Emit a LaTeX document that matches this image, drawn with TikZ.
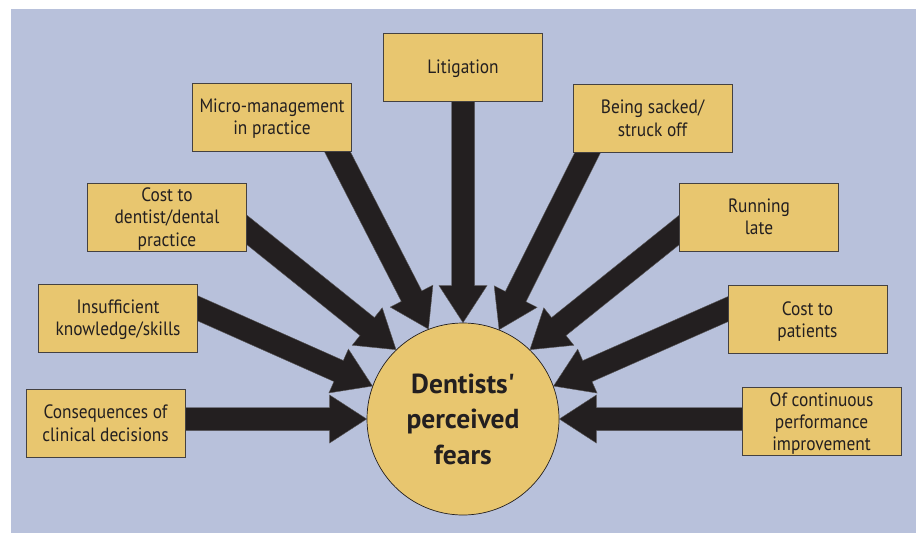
\documentclass[tikz,border=0pt]{standalone}
\usepackage{fontspec}
\setmainfont{PT Sans}[FakeStretch=0.9]
\newfontfamily\centrefont{PT Sans}
\usetikzlibrary{calc}
\definecolor{bgblue}{HTML}{B8C1DB}
\definecolor{boxfill}{HTML}{E8C66F}
\definecolor{ink}{HTML}{231F20}
\pgfdeclarelayer{bglayer}
\pgfdeclarelayer{arrowlayer}
\pgfsetlayers{bglayer,arrowlayer,main}
\newcommand{\fatarrow}[2]{%
  \path ($(#2)!37pt!(#1)$) coordinate (fa-b);
  \filldraw[fatstyle] ($(#1)!11.5pt!90:(#2)$) -- ($(fa-b)!11.5pt!-90:(#1)$) -- ($(fa-b)!24pt!-90:(#1)$) -- (#2) -- ($(fa-b)!24pt!90:(#1)$) -- ($(fa-b)!11.5pt!90:(#1)$) -- ($(#1)!11.5pt!-90:(#2)$) -- cycle;
}
\begin{document}
\begin{tikzpicture}[x=1pt,y=-1pt,
  fearbox/.style={draw=ink!85, line width=0.7pt, fill=boxfill, minimum width=159pt, minimum height=68pt, inner sep=2pt, text depth=0pt, align=center, text=ink, font=\fontsize{19.3}{22.3}\selectfont},
  centre/.style={circle, draw=ink, line width=0.7pt, fill=boxfill, minimum size=192pt, inner sep=0pt, align=center, text=ink, font=\centrefont\fontsize{27.5}{35.5}\selectfont\bfseries},
  fatstyle/.style={fill=ink, draw=ink!75, line width=0.4pt, line join=miter}]
\useasboundingbox (0,0) rectangle (920,533);
\begin{pgfonlayer}{bglayer}
  \fill[bgblue] (11,9) rectangle (916,533);
\end{pgfonlayer}

\node[centre] (fear) at (463,419) {Dentists\textquotesingle\\perceived\\fears};

\node[fearbox] (lit) at (463,67) {Litigation};
\node[fearbox] (micro) at (272,117) {Micro-management\\in practice};
\node[fearbox] (costd) at (167,217) {Cost to\\dentist/dental\\practice};
\node[fearbox] (insuf) at (118,318) {Insufficient\\knowledge/skills};
\node[fearbox] (conseq) at (105.5,423) {Consequences of\\clinical decisions};
\node[fearbox] (sacked) at (652.5,118) {Being sacked/\\struck off};
\node[fearbox] (late) at (759,217) {Running\\late};
\node[fearbox] (costp) at (807.5,319.5) {Cost to\\patients};
\node[fearbox] (cont) at (821.5,421.5) {Of continuous\\performance\\improvement};

\coordinate (s-lit) at (463,85);
\coordinate (s-micro) at (327.9,133.2);
\coordinate (s-costd) at (231.4,217.5);
\coordinate (s-insuf) at (179,300);
\coordinate (s-conseq) at (165,419);
\coordinate (s-sacked) at (597,134);
\coordinate (s-late) at (694.6,217.6);
\coordinate (s-costp) at (746.6,300.9);
\coordinate (s-cont) at (760,419);

\begin{pgfonlayer}{arrowlayer}
  \fatarrow{s-lit}{fear.90}
  \fatarrow{s-micro}{fear.111}
  \fatarrow{s-costd}{fear.134}
  \fatarrow{s-insuf}{fear.160}
  \fatarrow{s-conseq}{fear.180}
  \fatarrow{s-sacked}{fear.68}
  \fatarrow{s-late}{fear.46}
  \fatarrow{s-costp}{fear.20}
  \fatarrow{s-cont}{fear.0}
\end{pgfonlayer}
\end{tikzpicture}
\end{document}
